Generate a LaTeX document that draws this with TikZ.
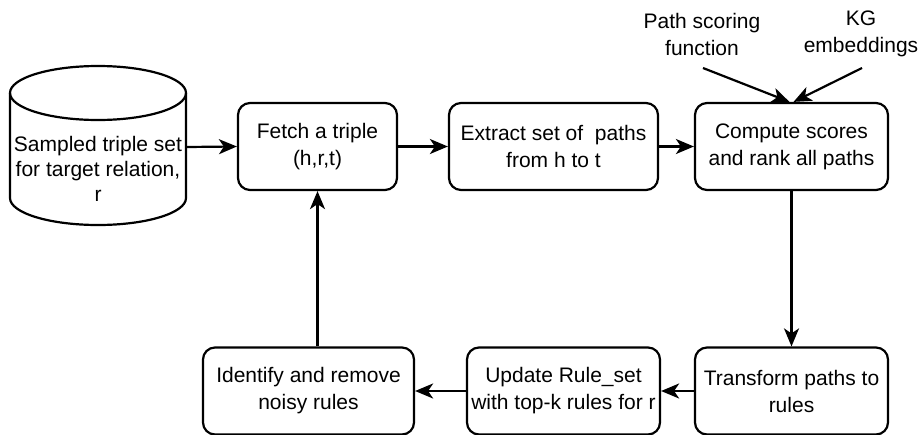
\documentclass[tikz,border=0pt]{standalone}
\usepackage{fontspec}
\setmainfont{Liberation Sans}
\usetikzlibrary{arrows.meta,calc}

\tikzset{
  stepbox/.style={draw, line width=2.2pt, rounded corners=12pt, minimum height=87pt,
    inner sep=0pt, align=center, font=\fontsize{21}{27}\selectfont},
  lbl/.style={align=center, inner sep=0pt, font=\fontsize{21}{27}\selectfont},
  arr/.style={line width=2.2pt, -{Stealth[length=18pt,width=15pt,inset=5pt]}},
  edge/.style={line width=2.2pt}
}

\begin{document}
\begin{tikzpicture}[x=1pt,y=-1pt]
  \useasboundingbox (0,0) rectangle (920,434);

  % data store drawn as a cylinder
  \draw[edge] (98,93) ellipse[x radius=88, y radius=27];
  \draw[edge] (10,93) -- (10,198) arc[start angle=180, end angle=0, x radius=88, y radius=27] -- (186,93);
  \node[lbl, font=\fontsize{21}{25}\selectfont] (db) at (98,169) {Sampled triple set\\for target relation,\\r};
  \coordinate (dbE) at (186,147);

  % upper row of steps
  \node[stepbox, minimum width=159pt] (fetch) at (317.5,146.5) {Fetch a triple\\(h,r,t)};
  \node[stepbox, minimum width=209pt] (extract) at (553.5,146.5) {Extract set of\ \ paths\\from h to t};
  \node[stepbox, minimum width=193pt] (score) at (791.5,146.5) {Compute scores\\and rank all paths};

  % lower row of steps
  \node[stepbox, minimum width=211pt] (noisy) at (308.5,391) {Identify and remove\\noisy rules};
  \node[stepbox, minimum width=193pt] (update) at (563.5,391) {Update Rule\_set\\with top-k rules for r};
  \node[stepbox, minimum width=193pt] (rules) at (791.5,391) {Transform paths to\\rules};

  % inputs to the scoring step
  \node[lbl] (psf) at (702,34) {Path scoring\\function};
  \node[lbl] (kge) at (861,34) {KG\\embeddings};
  \coordinate (psfS) at (703,68);
  \coordinate (kgeS) at (862,68);

  % connectors
  \draw[arr] (dbE) -- (fetch.west);
  \draw[arr] (fetch.east) -- (extract.west);
  \draw[arr] (extract.east) -- (score.west);
  \draw[arr] (psfS) -- ($(score.north)+(-2,0)$);
  \draw[arr] (kgeS) -- ($(score.north)+(2,0)$);
  \draw[arr] (score.south) -- (rules.north);
  \draw[arr] (rules.west) -- (update.east);
  \draw[arr] (update.west) -- (noisy.east);
  \draw[arr] (fetch.south |- noisy.north) -- (fetch.south);
\end{tikzpicture}
\end{document}
